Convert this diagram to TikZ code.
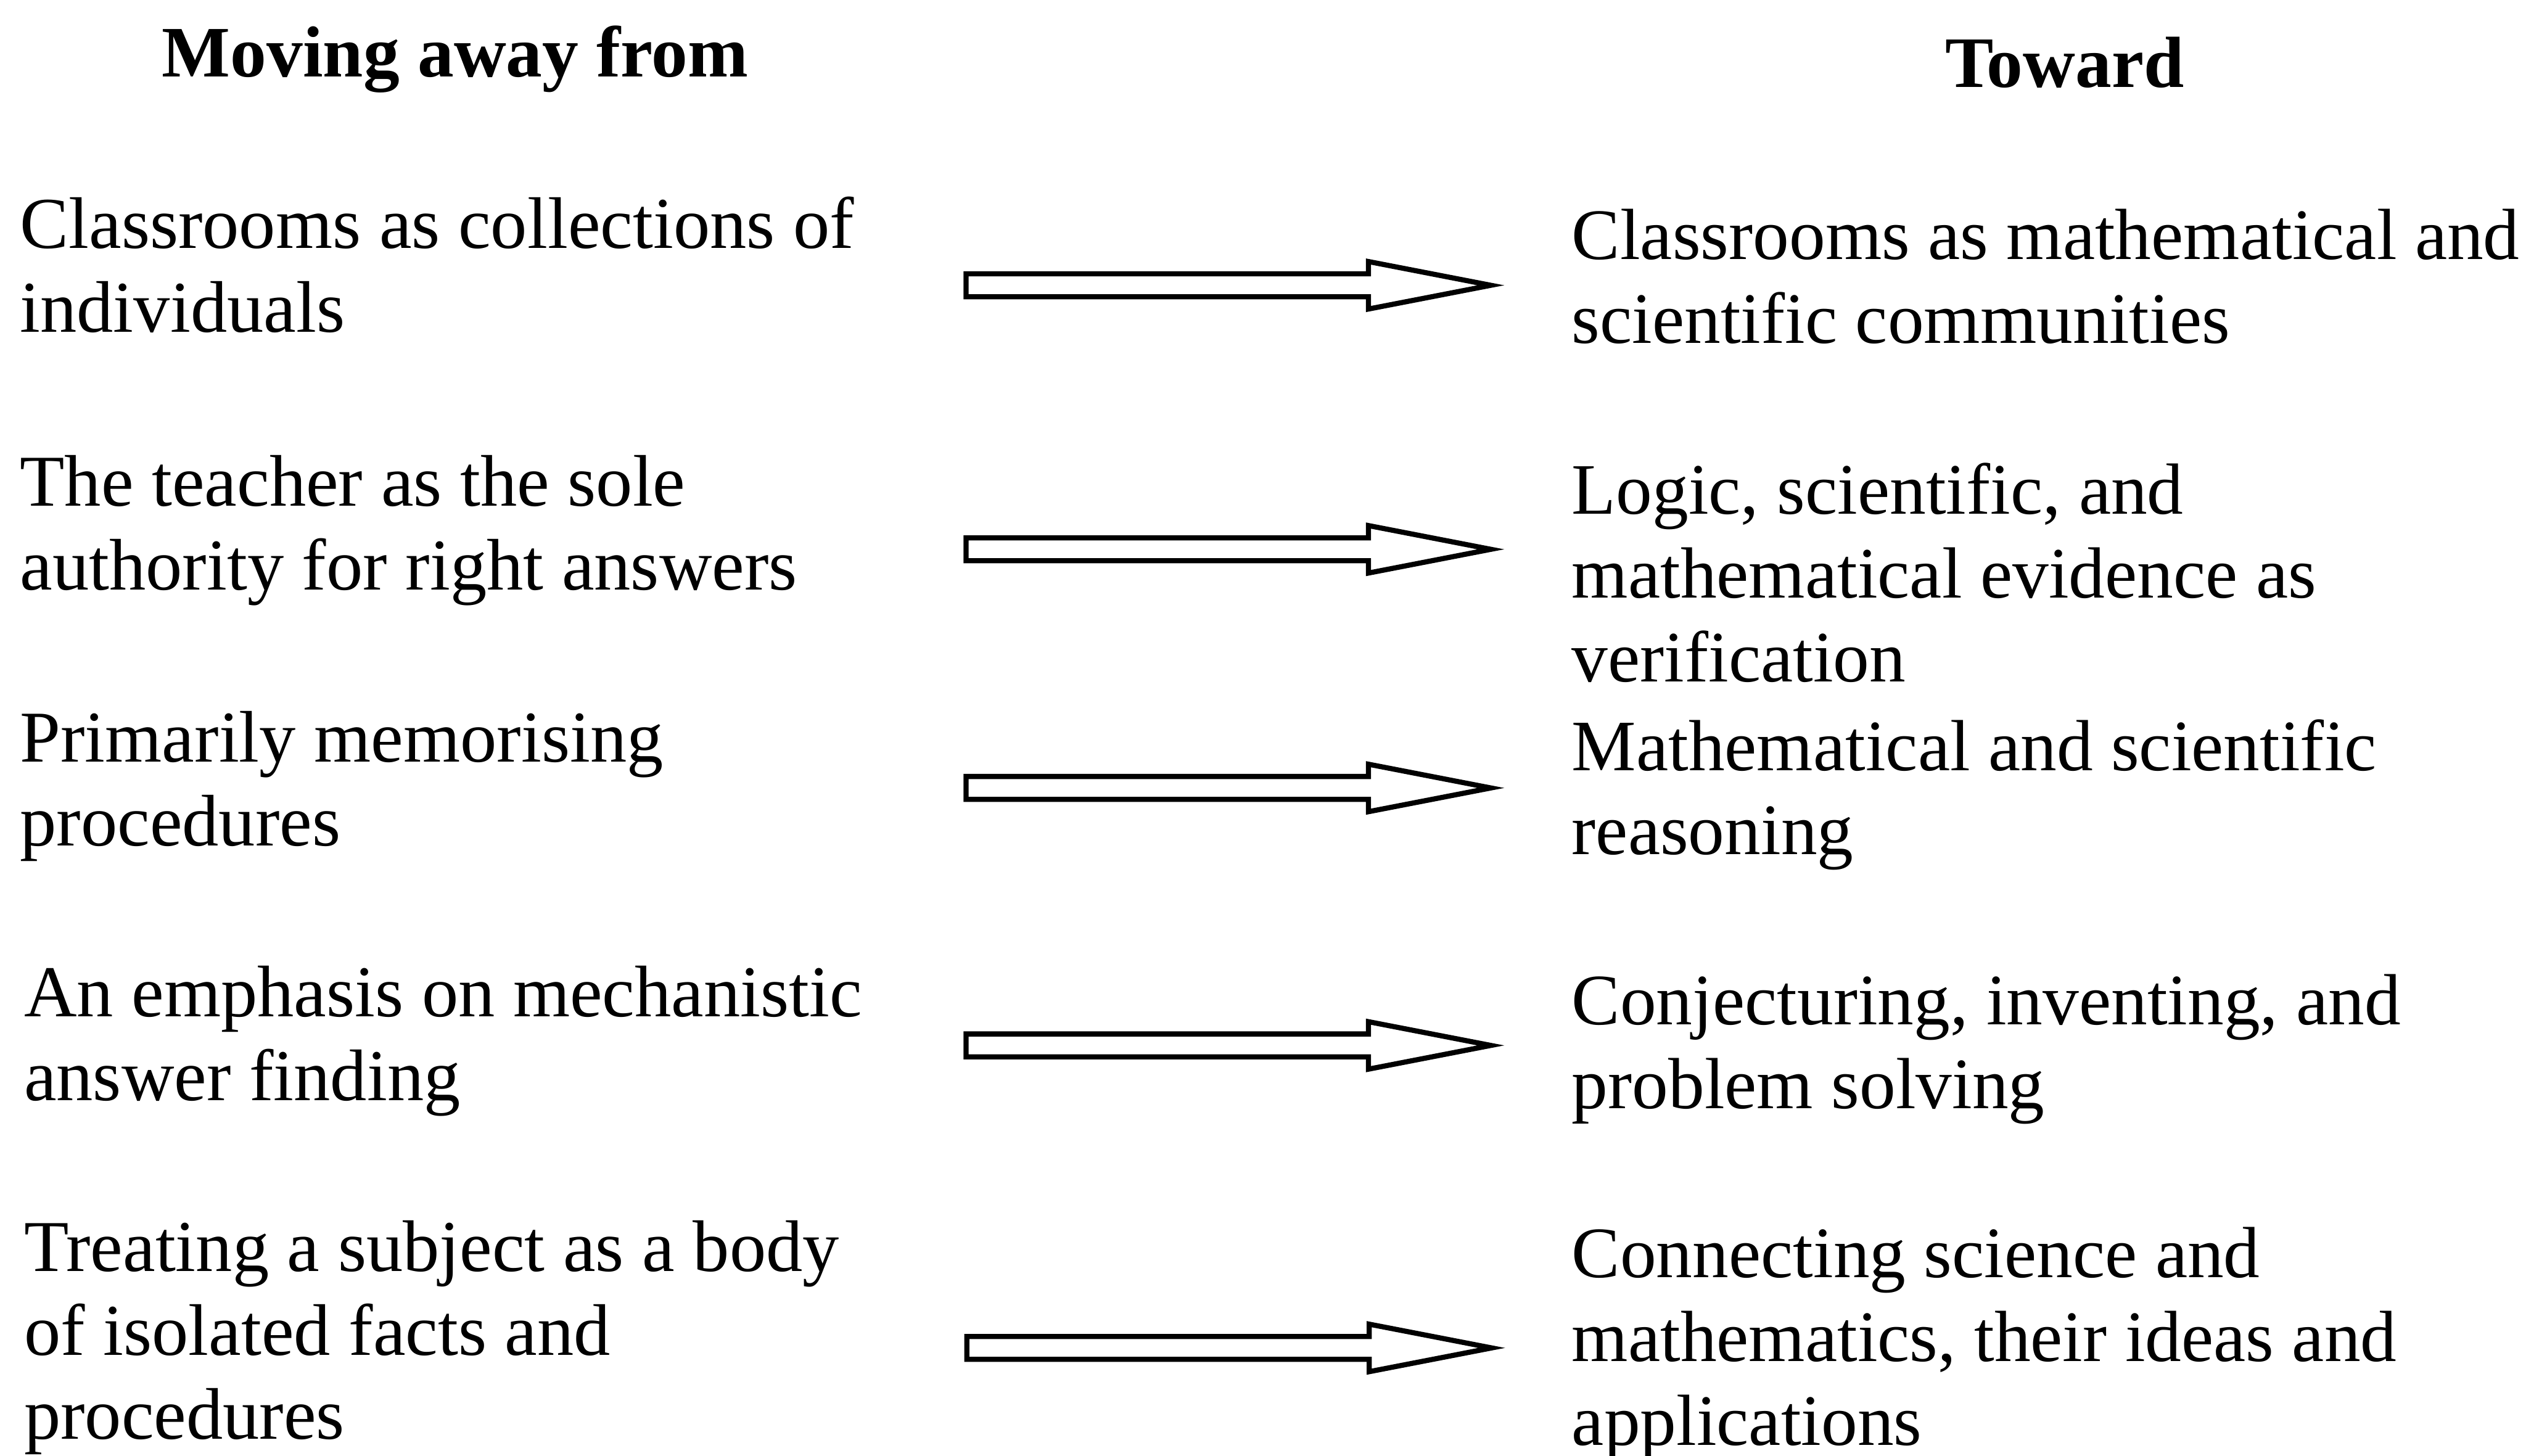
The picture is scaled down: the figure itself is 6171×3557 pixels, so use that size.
\documentclass[tikz,border=0pt]{standalone}
\usepackage{fontspec}
\setmainfont{Liberation Serif}
\begin{document}
\begin{tikzpicture}[x=0.1pt,y=-0.1pt,
  txt/.style={anchor=base west,inner sep=0pt,font=\fontsize{17.7}{20.5}\selectfont},
  ltxt/.style={anchor=base west,inner sep=0pt,font=\fontsize{17.85}{20.5}\selectfont},
  headtxt/.style={txt,font=\fontsize{17.7}{20.5}\selectfont\bfseries},
  hollow/.style={draw=black,line width=1.25pt,line join=miter,fill=white},
  hollowarrow/.pic={\draw[hollow] (0,-28) -- (983,-28) -- (983,-58) -- (1282,0) -- (983,58) -- (983,28) -- (0,28) -- cycle;}]
\useasboundingbox (0,0) rectangle (6171,3557);
\node[headtxt] (hl) at (394,188) {Moving away from};
\node[headtxt] (hr) at (4750,213) {Toward};
% left column
\node[ltxt] (l1) at (47,606) {\vtop{\hbox{Classrooms as collections of}\hbox{individuals}}};
\node[ltxt] (l2) at (47,1236) {\vtop{\hbox{The teacher as the sole}\hbox{authority for right answers}}};
\node[ltxt] (l3) at (47,1862) {\vtop{\hbox{Primarily memorising}\hbox{procedures}}};
\node[ltxt] (l4) at (57,2484) {\vtop{\hbox{An emphasis on mechanistic}\hbox{answer finding}}};
\node[ltxt] (l5) at (57,3106) {\vtop{\hbox{Treating a subject as a body}\hbox{of isolated facts and}\hbox{procedures}}};
% right column
\node[txt] (r1) at (3838,634) {\vtop{\hbox{Classrooms as mathematical and}\hbox{scientific communities}}};
\node[txt] (r2) at (3838,1256) {\vtop{\hbox{Logic, scientific, and}\hbox{mathematical evidence as}\hbox{verification}}};
\node[txt] (r3) at (3838,1882) {\vtop{\hbox{Mathematical and scientific}\hbox{reasoning}}};
\node[txt] (r4) at (3838,2503) {\vtop{\hbox{Conjecturing, inventing, and}\hbox{problem solving}}};
\node[txt] (r5) at (3838,3121) {\vtop{\hbox{Connecting science and}\hbox{mathematics, their ideas and}\hbox{applications}}};
% arrows
\coordinate (a1) at (2360,697);
\coordinate (a2) at (2360,1342);
\coordinate (a3) at (2360,1925);
\coordinate (a4) at (2360,2554);
\coordinate (a5) at (2362,3293);
\foreach \a in {a1,a2,a3,a4,a5} \pic at (\a) {hollowarrow};
\end{tikzpicture}
\end{document}
